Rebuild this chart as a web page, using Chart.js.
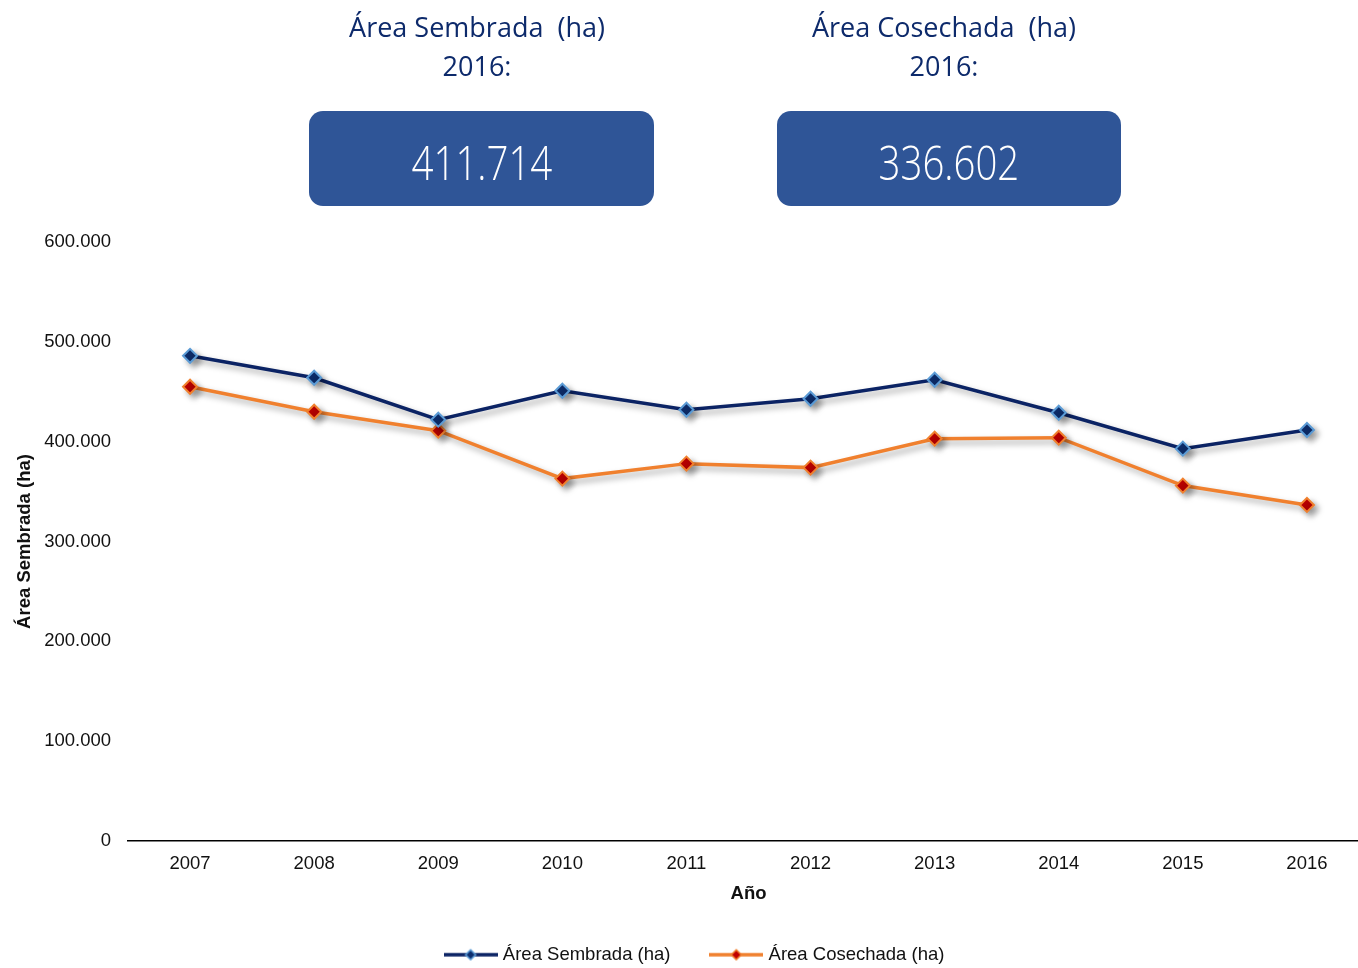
<!DOCTYPE html>
<html>
<head>
<meta charset="utf-8">
<script src="https://cdn.jsdelivr.net/npm/chart.js@4"></script>
<style>
  html, body { margin: 0; padding: 0; background: #fff; overflow: hidden; }
  #wrap { position: relative; width: 1358px; height: 968px; overflow: hidden; }
  #myChart { position: absolute; left: 0; top: 0; }
  .head { position: absolute; width: 360px; text-align: center; color: #0d2a6b;
          font-family: "Open Sans", "Noto Sans", sans-serif; font-size: 27px; line-height: 39px; top: 7px; }
  .box { position: absolute; top: 111px; height: 95px; background: #2f5597; border-radius: 14px;
         color: #fff; font-family: "Open Sans", "Noto Sans", sans-serif; font-weight: 300;
         font-size: 48px; line-height: 102px; text-align: center; }
  .box span { display: inline-block; transform: scaleX(0.8); }
</style>
</head>
<body>
<div id="wrap">
  <canvas id="myChart" width="1378" height="974"></canvas>
  <div class="head" style="left:297px">Área Sembrada&nbsp; (ha)<br>2016:</div>
  <div class="head" style="left:764px">Área Cosechada&nbsp; (ha)<br>2016:</div>
  <div class="box" style="left:309px; width:345px"><span id="box1"></span></div>
  <div class="box" style="left:777px; width:344px"><span id="box2"></span></div>
</div>
<script>
// Data
var years = ["2007", "2008", "2009", "2010", "2011", "2012", "2013", "2014", "2015", "2016"];
var sembrada = [486000, 464000, 422000, 451000, 432000, 443000, 462000, 429000, 393000, 411714];
var cosechada = [455000, 430000, 411000, 363000, 378000, 374000, 403000, 404000, 356000, 336602];

var NAVY = "#0b2364";
var ORANGE = "#f0802e";
var FONT = "'Liberation Sans', Arial, sans-serif";

// number with dot as thousands separator
function fmt(v) {
  return String(Math.round(v)).replace(/\B(?=(\d{3})+(?!\d))/g, ".");
}

document.getElementById("box1").textContent = fmt(sembrada[sembrada.length - 1]);
document.getElementById("box2").textContent = fmt(cosechada[cosechada.length - 1]);

// legend symbol: line with a diamond in the middle
function legendSymbol(lineColor, fill, border) {
  var c = document.createElement("canvas");
  c.width = 54;
  c.height = 16;
  var g = c.getContext("2d");
  g.strokeStyle = lineColor;
  g.lineWidth = 3.5;
  g.beginPath();
  g.moveTo(0, 8);
  g.lineTo(54, 8);
  g.stroke();
  g.beginPath();
  g.moveTo(27, 3);
  g.lineTo(32, 8);
  g.lineTo(27, 13);
  g.lineTo(22, 8);
  g.closePath();
  g.fillStyle = fill;
  g.fill();
  g.lineWidth = 1.5;
  g.strokeStyle = border;
  g.stroke();
  return c;
}

// soft drop shadow under the lines
var shadowPlugin = {
  id: "shadow",
  beforeDatasetsDraw: function(chart) {
    var ctx = chart.ctx;
    ctx.save();
    ctx.shadowColor = "rgba(0,0,0,0.35)";
    ctx.shadowBlur = 6;
    ctx.shadowOffsetX = 4;
    ctx.shadowOffsetY = 4;
  },
  afterDatasetsDraw: function(chart) {
    chart.ctx.restore();
  }
};

var ctx = document.getElementById("myChart").getContext("2d");
var myChart = new Chart(ctx, {
  type: "line",
  data: {
    labels: years,
    datasets: [
      {
        label: "Área Sembrada (ha)",
        data: sembrada,
        borderColor: NAVY,
        borderWidth: 3.5,
        pointStyle: "rectRot",
        pointRadius: 7,
        pointBackgroundColor: "#0d2e6e",
        pointBorderColor: "#5b9bd5",
        pointBorderWidth: 2,
        tension: 0
      },
      {
        label: "Área Cosechada (ha)",
        data: cosechada,
        borderColor: ORANGE,
        borderWidth: 3.5,
        pointStyle: "rectRot",
        pointRadius: 7,
        pointBackgroundColor: "#c00000",
        pointBorderColor: "#f0802e",
        pointBorderWidth: 2,
        tension: 0
      }
    ]
  },
  options: {
    responsive: false,
    animation: false,
    layout: { padding: { top: 242, left: 14, right: 0, bottom: 0 } },
    plugins: {
      tooltip: { enabled: false },
      legend: {
        position: "bottom",
        labels: {
          usePointStyle: true,
          pointStyleWidth: 46,
          padding: 12,
          color: "#111",
          font: { family: FONT, size: 18.5 },
          generateLabels: function(chart) {
            var n = chart.data.datasets.length;
            return chart.data.datasets.map(function(ds, i) {
              return {
                // trailing spaces widen the gap between the two items
                text: i < n - 1 ? ds.label + "      " : ds.label,
                pointStyle: legendSymbol(ds.borderColor, ds.pointBackgroundColor, ds.pointBorderColor),
                fontColor: "#111",
                datasetIndex: i,
                hidden: false,
                lineWidth: 0
              };
            });
          }
        }
      }
    },
    scales: {
      x: {
        offset: true,
        grid: { display: false, drawTicks: false },
        border: { display: true, color: "#000", width: 1.5 },
        ticks: {
          color: "#111",
          padding: 12,
          font: { family: FONT, size: 18.5 }
        },
        title: {
          display: true,
          text: "Año",
          color: "#111",
          padding: { top: 8, bottom: 28 },
          font: { family: FONT, size: 18.5, weight: "bold" }
        },
        afterFit: function(scale) { scale.height = 92.5; }
      },
      y: {
        min: 0,
        max: 600000,
        grid: { display: false, drawTicks: false },
        border: { display: false },
        ticks: {
          stepSize: 100000,
          color: "#111",
          padding: 17,
          font: { family: FONT, size: 18.5 },
          callback: function(v) { return fmt(v); }
        },
        title: {
          display: true,
          text: "Área Sembrada (ha)",
          color: "#111",
          padding: { top: 0, bottom: 0 },
          font: { family: FONT, size: 18.5, weight: "bold" }
        },
        afterFit: function(scale) { scale.width = 114; }
      }
    }
  },
  plugins: [shadowPlugin]
});
</script>
</body>
</html>
